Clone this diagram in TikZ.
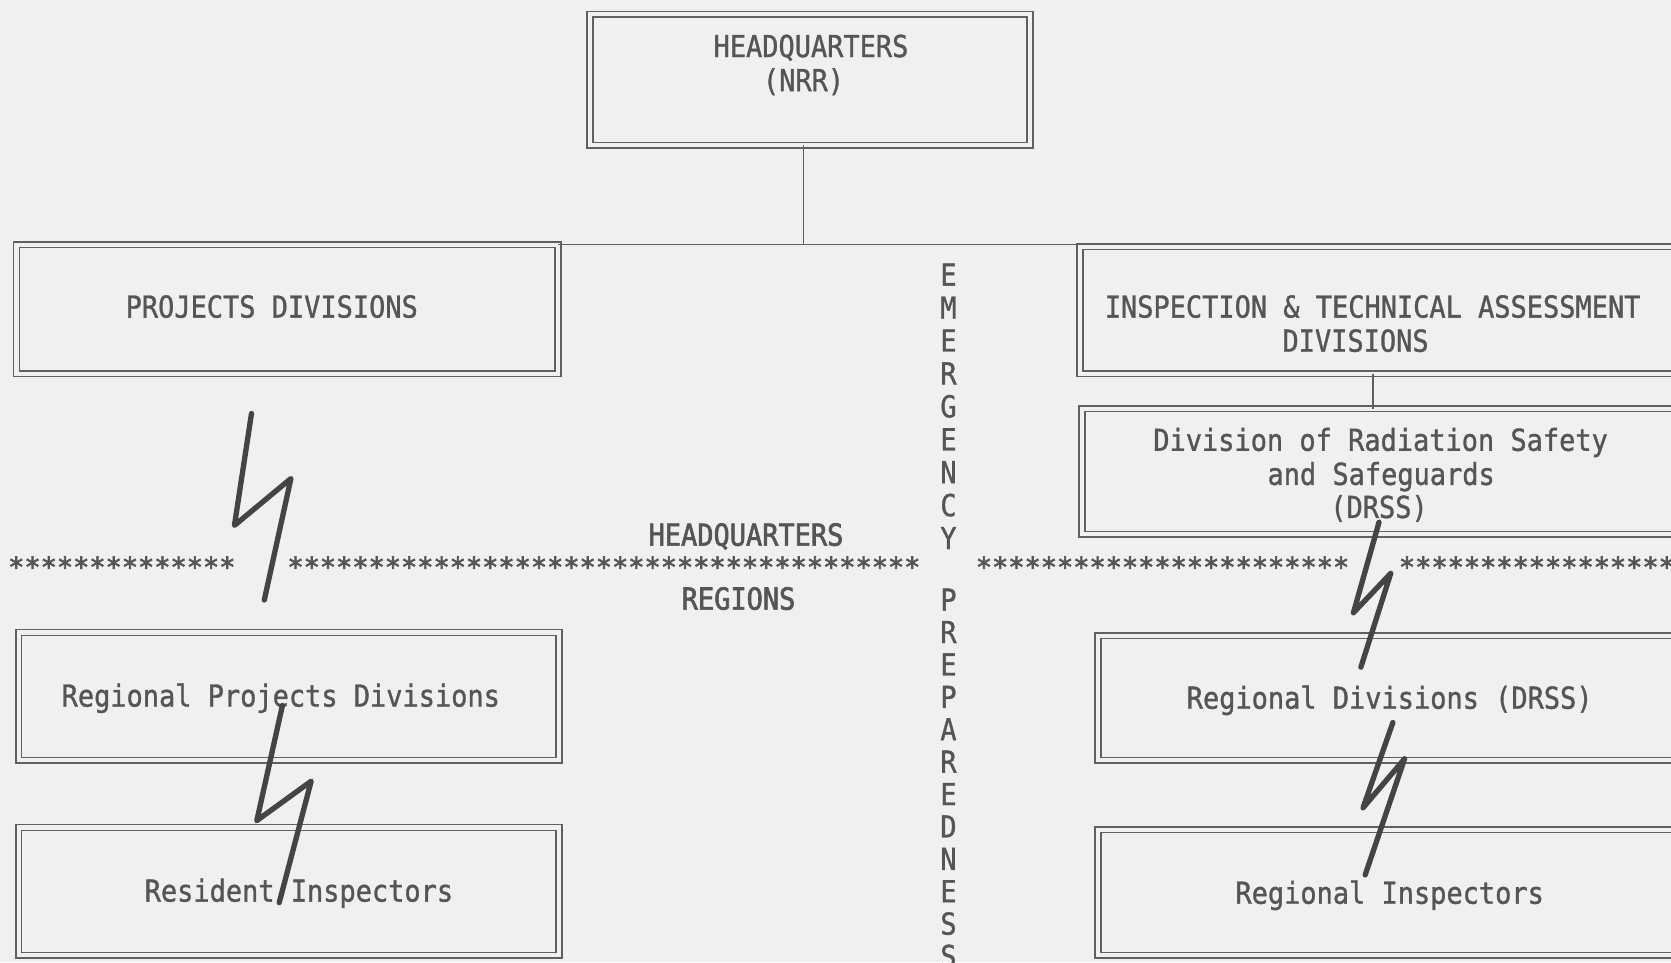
\documentclass[tikz,border=0pt]{standalone}
\usepackage{fontspec}
\usepackage{graphicx}
\newfontfamily\prt{DejaVu Sans Mono}[FakeBold=1.2]
\newfontfamily\prb{DejaVu Sans Mono}[FakeBold=2.2]
\newfontfamily\prs{DejaVu Sans Mono}[FakeBold=2.5]
\definecolor{bgc}{HTML}{F0F0F0}
\definecolor{linec}{HTML}{606060}
\definecolor{txtc}{HTML}{555555}
\definecolor{boltc}{HTML}{444444}
\newcommand\vst[1]{\scalebox{1}[1.12]{#1}}
\begin{document}
\begin{tikzpicture}[x=1pt,y=-1pt,
  box/.style={draw=linec, line width=1.6pt, double=bgc, double distance=3.8pt,
              inner sep=0pt, outer sep=0pt, anchor=north west},
  txt/.style={text=txtc, font=\prt\fontsize{25.3}{32}\selectfont, inner sep=0pt, anchor=base},
  mid/.style={txt, font=\prb\fontsize{25.3}{32}\selectfont},
  stars/.style={text=txtc, font=\prs\fontsize{25.3}{32}\selectfont, inner sep=0pt, anchor=base west},
  conn/.style={draw=linec, line width=1.7pt},
  bolt/.style={draw=boltc, line width=5pt, line join=round, line cap=round}]
\fill[bgc] (0,0) rectangle (1568,903);
\useasboundingbox (0,0) rectangle (1568,903);

% boxes
\node[box, minimum width=413pt, minimum height=123pt] (hq)   at (553.5,13.5) {};
\node[box, minimum width=508pt, minimum height=121pt] (proj) at (15.5,229.5) {};
\node[box, minimum width=620pt, minimum height=119pt] (insp) at (1013.5,231.5) {};
\node[box, minimum width=620pt, minimum height=118pt] (drss) at (1015.5,383.5) {};
\node[box, minimum width=507pt, minimum height=120pt] (rpd)  at (17.5,593.5) {};
\node[box, minimum width=507pt, minimum height=120pt] (ri)   at (17.5,776.5) {};
\node[box, minimum width=620pt, minimum height=117pt] (rdd)  at (1030.5,596.5) {};
\node[box, minimum width=620pt, minimum height=118pt] (rin)  at (1030.5,778.5) {};

% connectors
\coordinate (j) at (754,229);
\draw[conn] (j |- hq.south) -- (j);
\draw[conn] (proj.north east) -- (proj.north east -| insp.north west);
\coordinate (k) at (1288,0);
\draw[conn] (k |- insp.south) -- (k |- drss.north);

% box texts
\node[txt] (hqt1) at (761,53.5) {\vst{HEADQUARTERS}};
\node[txt] (hqt2) at (754,85.5) {\vst{(NRR)}};
\node[txt] (pdt)  at (255,298) {\vst{PROJECTS DIVISIONS}};
\node[txt] (it1)  at (1288,298) {\vst{INSPECTION \& TECHNICAL ASSESSMENT}};
\node[txt] (it2)  at (1272,330) {\vst{DIVISIONS}};
\node[txt] (dt1)  at (1295.5,423) {\vst{Division of Radiation Safety}};
\node[txt] (dt2)  at (1296,455) {\vst{and Safeguards}};
\node[txt] (dt3)  at (1294,486) {\vst{(DRSS)}};
\node[txt] (rpdt) at (263.5,663) {\vst{Regional Projects Divisions}};
\node[txt] (rit)  at (280.5,846) {\vst{Resident Inspectors}};
\node[txt] (rddt) at (1304,665) {\vst{Regional Divisions (DRSS)}};
\node[txt] (rint) at (1304,848) {\vst{Regional Inspectors}};

% middle labels
\node[mid] (hqm) at (700,512) {\vst{HEADQUARTERS}};
\node[mid] (reg) at (693,572) {\vst{REGIONS}};

% vertical text
\foreach \l [count=\i from 0] in {E,M,E,R,G,E,N,C,Y}
  \node[txt] (em\i) at (890,{268+\i*30.9}) {\vst{\l}};
\foreach \l [count=\i from 0] in {P,R,E,P,A,R,E,D,N,E,S,S}
  \node[txt] (pr\i) at (890,{573+\i*30.4}) {\vst{\l}};

% star rows
\node[stars] (s1) at (7.5,541) {**************};
\node[stars] (s2) at (269.5,541) {***************************************};
\node[stars] (s3) at (915.5,541) {***********************};
\node[stars] (s4) at (1312.5,541) {********************};

% lightning links
\coordinate (b1a) at (236,388); \coordinate (b1b) at (220,493);
\coordinate (b1c) at (273,449); \coordinate (b1d) at (248,563);
\draw[bolt] (b1a) -- (b1b) -- (b1c) -- (b1d);
\coordinate (b2a) at (265,662); \coordinate (b2b) at (241,770);
\coordinate (b2c) at (292,733); \coordinate (b2d) at (262,847);
\draw[bolt] (b2a) -- (b2b) -- (b2c) -- (b2d);
\coordinate (b3a) at (1294,490); \coordinate (b3b) at (1270,575);
\coordinate (b3c) at (1305,538); \coordinate (b3d) at (1277,626);
\draw[bolt] (b3a) -- (b3b) -- (b3c) -- (b3d);
\coordinate (b4a) at (1307,678); \coordinate (b4b) at (1279,758);
\coordinate (b4c) at (1318,712); \coordinate (b4d) at (1281,821);
\draw[bolt] (b4a) -- (b4b) -- (b4c) -- (b4d);
\end{tikzpicture}
\end{document}
